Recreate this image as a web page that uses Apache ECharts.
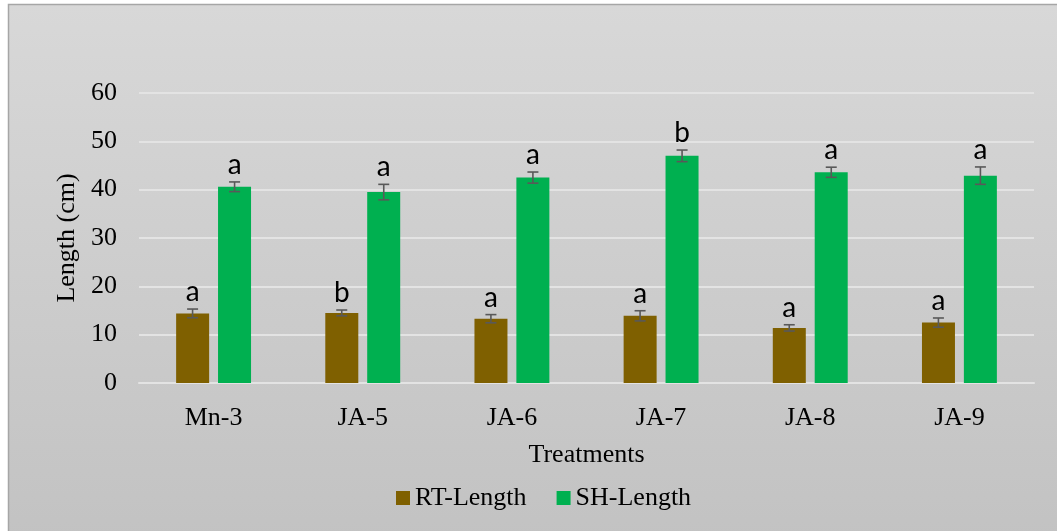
<!DOCTYPE html>
<html>
<head>
<meta charset="utf-8">
<script src="https://cdn.jsdelivr.net/npm/echarts@6/dist/echarts.min.js"></script>
<style>
html,body{margin:0;padding:0;background:#ffffff;}
#chart{width:1057px;height:531px;}
</style>
</head>
<body>
<div id="chart"></div>
<script>
const categories = ['Mn-3', 'JA-5', 'JA-6', 'JA-7', 'JA-8', 'JA-9'];
const rtLength = [14.4, 14.5, 13.3, 13.9, 11.4, 12.5];
const rtError = [0.9, 0.6, 0.85, 1.05, 0.65, 0.95];
const rtLetters = ['a', 'b', 'a', 'a', 'a', 'a'];
const shLength = [40.6, 39.5, 42.5, 47.0, 43.6, 42.9];
const shError = [1.0, 1.6, 1.15, 1.2, 1.05, 1.8];
const shLetters = ['a', 'a', 'a', 'b', 'a', 'a'];
const yTicks = [0, 10, 20, 30, 40, 50, 60];

const serif = '"Liberation Serif", "Times New Roman", serif';

function errSeries(name, values, errs, letters, offset) {
  return {
    name: name,
    type: 'custom',
    z: 10,
    silent: true,
    encode: { x: 0, y: 1 },
    data: values.map((v, i) => [i, v, errs[i], letters[i]]),
    renderItem: function (params, api) {
      const idx = api.value(0);
      const v = api.value(1);
      const e = api.value(2);
      const top = api.coord([idx, v + e]);
      const bot = api.coord([idx, v - e]);
      const x = top[0] + offset;
      const cap = 5.5;
      const st = { stroke: '#595959', lineWidth: 1.6 };
      return {
        type: 'group',
        children: [
          { type: 'line', shape: { x1: x, y1: top[1], x2: x, y2: bot[1] }, style: st },
          { type: 'line', shape: { x1: x - cap, y1: top[1], x2: x + cap, y2: top[1] }, style: st },
          { type: 'line', shape: { x1: x - cap, y1: bot[1], x2: x + cap, y2: bot[1] }, style: st },
          { type: 'text', x: x, y: top[1] - 3,
            style: { text: letters[params.dataIndex], fill: '#000', font: '28px Lato, "Open Sans", sans-serif',
                     align: 'center', verticalAlign: 'bottom' } }
        ]
      };
    }
  };
}

const chart = echarts.init(document.getElementById('chart'));
chart.setOption({
  animation: false,
  backgroundColor: '#ffffff',
  graphic: {
    elements: [{
      type: 'rect', z: -10, silent: true,
      shape: { x: 8.5, y: 4.5, width: 1070, height: 540 },
      style: {
        fill: new echarts.graphic.LinearGradient(0, 0, 0, 1, [
          { offset: 0, color: '#d8d8d8' },
          { offset: 1, color: '#c2c2c2' }
        ]),
        stroke: '#a6a6a6', lineWidth: 1.5
      }
    }]
  },
  grid: { left: 139, right: 23, top: 93, bottom: 148, containLabel: false },
  legend: {
    data: ['RT-Length', 'SH-Length'],
    left: 391, top: 480,
    icon: 'rect', itemWidth: 14, itemHeight: 14, itemGap: 30,
    textStyle: { fontFamily: serif, fontSize: 26, color: '#000', padding: [0, 0, 0, 0] }
  },
  xAxis: {
    type: 'category',
    data: categories,
    name: 'Treatments',
    nameLocation: 'middle',
    nameGap: 59,
    nameTextStyle: { fontFamily: serif, fontSize: 26, color: '#000' },
    axisLine: { show: true, lineStyle: { color: '#e3e3e3', width: 2 } },
    axisTick: { show: false },
    axisLabel: { fontFamily: serif, fontSize: 26, color: '#000', margin: 22 }
  },
  yAxis: {
    type: 'value',
    min: yTicks[0], max: yTicks[yTicks.length - 1], interval: 10,
    name: 'Length (cm)',
    nameLocation: 'middle',
    nameGap: 58,
    nameTextStyle: { fontFamily: serif, fontSize: 26, color: '#000' },
    axisLine: { show: false },
    axisTick: { show: false },
    axisLabel: { fontFamily: serif, fontSize: 26, color: '#000', margin: 22 },
    splitLine: { lineStyle: { color: '#e3e3e3', width: 2 } }
  },
  series: [
    { name: 'RT-Length', type: 'bar', data: rtLength, barWidth: 33, barGap: '27%',
      itemStyle: { color: '#7f6000' } },
    { name: 'SH-Length', type: 'bar', data: shLength, barWidth: 33, barGap: '27%',
      itemStyle: { color: '#00b050' } },
    errSeries('RT-err', rtLength, rtError, rtLetters, -21),
    errSeries('SH-err', shLength, shError, shLetters, 21)
  ]
});
</script>
</body>
</html>
